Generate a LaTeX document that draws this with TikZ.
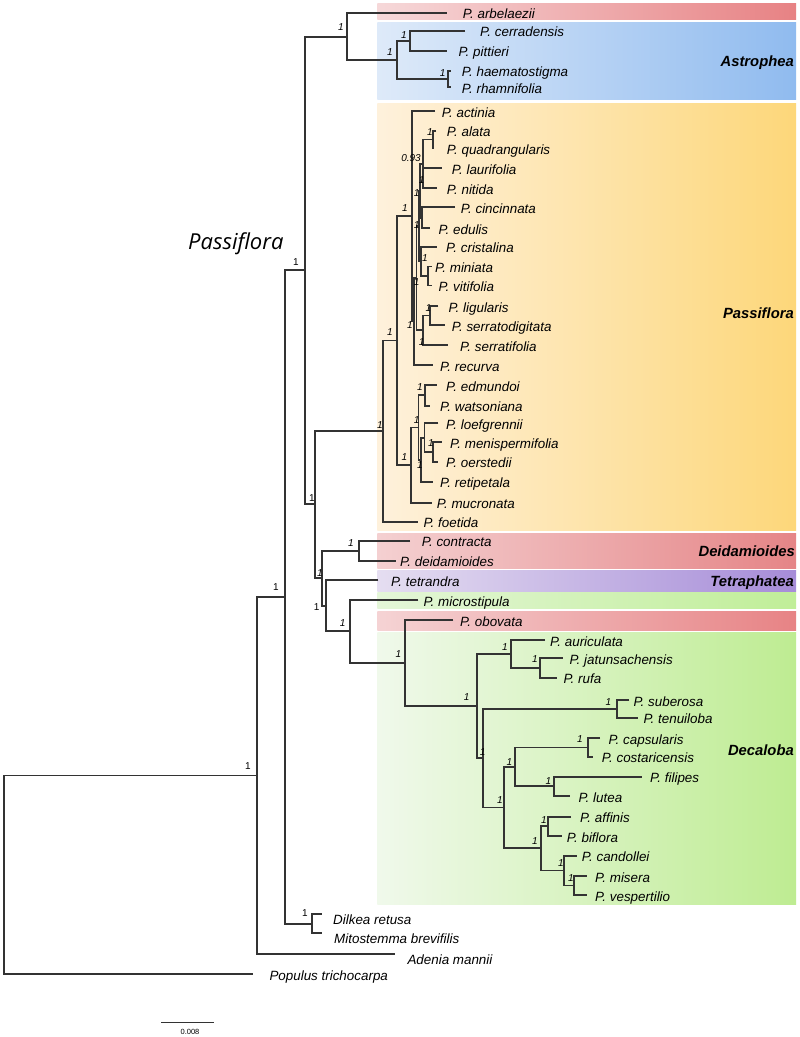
\documentclass[tikz,border=0pt]{standalone}
\usepackage{fontspec}
\setmainfont{Liberation Sans}
\newfontfamily\opensans{Open Sans}
\definecolor{arbL}{HTML}{F6D8D9}\definecolor{arbR}{HTML}{E78284}
\definecolor{astL}{HTML}{DEEAF9}\definecolor{astR}{HTML}{90BBEF}
\definecolor{pasL}{HTML}{FEF1DC}\definecolor{pasR}{HTML}{FDD77A}
\definecolor{deiL}{HTML}{F4D0D1}\definecolor{deiR}{HTML}{E58587}
\definecolor{tetL}{HTML}{E5DEF1}\definecolor{tetR}{HTML}{A68CD8}
\definecolor{micL}{HTML}{E4F6D8}\definecolor{micR}{HTML}{C0EE98}
\definecolor{oboL}{HTML}{F5D3D4}\definecolor{oboR}{HTML}{E78385}
\definecolor{decL}{HTML}{F0F9EB}\definecolor{decR}{HTML}{BEEC92}
\tikzset{
  branch/.style={line width=1.8pt, draw=black!80, line join=miter},
  tiplab/.style={anchor=base west, inner sep=0pt, font=\fontsize{13.4}{15}\selectfont\itshape},
  sup/.style={inner sep=0pt, font=\fontsize{10}{11}\selectfont\itshape},
  supu/.style={inner sep=0pt, font=\fontsize{10}{11}\selectfont},
  cladelab/.style={anchor=base east, inner sep=0pt, font=\fontsize{14.8}{16}\selectfont\bfseries\itshape},
}
\newcommand\tipnode[5]{\coordinate (#1) at (#2,#3); \node[tiplab] (#1-lab) at (#4,#3+6) {#5};}
\newcommand\inode[3]{\coordinate (#1) at (#2,#3);}
\newcommand\cladebr[3]{\draw[branch] (#2) -| (#1) |- (#3);}
\begin{document}
\begin{tikzpicture}[x=1pt,y=-1pt]
\fill[white] (0,0) rectangle (800,1037);
\useasboundingbox (0,0) rectangle (800,1037);
% bands
\shade[left color=arbL, right color=arbR] (377.3,3.3) rectangle (796,19.3);
\shade[left color=astL, right color=astR] (377.3,22.3) rectangle (796,99);
\shade[left color=pasL, right color=pasR] (377.3,103.3) rectangle (796,530);
\shade[left color=deiL, right color=deiR] (377.3,533.3) rectangle (796,568.3);
\shade[left color=tetL, right color=tetR] (377.3,570.7) rectangle (796,591);
\shade[left color=micL, right color=micR] (377.3,592.7) rectangle (796,608.3);
\shade[left color=oboL, right color=oboR] (377.3,611) rectangle (796,630);
\shade[left color=decL, right color=decR] (377.3,632.3) rectangle (796,904);
% clade labels
\node[cladelab] (labAst) at (794,66) {Astrophea};
\node[cladelab] (labPas) at (794,318.5) {Passiflora};
\node[cladelab] (labDei) at (795,556) {Deidamioides};
\node[cladelab] (labTet) at (794,586.5) {Tetraphatea};
\node[cladelab] (labDec) at (794,755.5) {Decaloba};
\node[anchor=base west, inner sep=0pt, font=\opensans\itshape\fontsize{22}{24}\selectfont] (bigPas) at (188,249.3) {Passiflora};
% tips
\tipnode{arb}{446.7}{12.7}{462.7}{P. arbelaezii}
\tipnode{cer}{465}{30.7}{480}{P. cerradensis}
\tipnode{pit}{446.7}{50.7}{458.3}{P. pittieri}
\tipnode{hae}{450.7}{70.7}{461.7}{P. haematostigma}
\tipnode{rha}{450.7}{87.3}{461.7}{P. rhamnifolia}
\tipnode{act}{435}{111}{441.7}{P. actinia}
\tipnode{ala}{436}{130.7}{446.7}{P. alata}
\tipnode{qua}{434}{148.3}{446.7}{P. quadrangularis}
\tipnode{lau}{441.7}{168.3}{451.7}{P. laurifolia}
\tipnode{nit}{436.7}{188.3}{446.7}{P. nitida}
\tipnode{cin}{455}{207.3}{460.7}{P. cincinnata}
\tipnode{edu}{430}{228.3}{438.3}{P. edulis}
\tipnode{cri}{436.7}{246.7}{446}{P. cristalina}
\tipnode{min}{431.7}{266.5}{435}{P. miniata}
\tipnode{vit}{431.7}{285.5}{438.3}{P. vitifolia}
\tipnode{lig}{438.3}{306}{448.3}{P. ligularis}
\tipnode{sdg}{445}{325}{451.7}{P. serratodigitata}
\tipnode{sfo}{448.3}{345}{460}{P. serratifolia}
\tipnode{rec}{433.3}{365}{440}{P. recurva}
\tipnode{edm}{436.7}{385}{446}{P. edmundoi}
\tipnode{wat}{430}{405.7}{440}{P. watsoniana}
\tipnode{loe}{438.3}{423.3}{446}{P. loefgrennii}
\tipnode{men}{441.7}{442.3}{450}{P. menispermifolia}
\tipnode{oer}{438.3}{461.7}{446}{P. oerstedii}
\tipnode{ret}{433.3}{481.7}{440}{P. retipetala}
\tipnode{muc}{431.7}{502.7}{436.7}{P. mucronata}
\tipnode{foe}{418.3}{521.7}{423.3}{P. foetida}
\tipnode{con}{410}{540.7}{421.7}{P. contracta}
\tipnode{dei}{396}{560.7}{400}{P. deidamioides}
\tipnode{tet}{378.3}{580}{391}{P. tetrandra}
\tipnode{mic}{418.3}{600}{423.3}{P. microstipula}
\tipnode{obo}{453.3}{620}{460}{P. obovata}
\tipnode{aur}{545}{640}{550}{P. auriculata}
\tipnode{jat}{562.7}{658.3}{569.3}{P. jatunsachensis}
\tipnode{ruf}{556.7}{677.7}{563.3}{P. rufa}
\tipnode{sub}{629.3}{700}{633.3}{P. suberosa}
\tipnode{ten}{638.3}{717.7}{643.3}{P. tenuiloba}
\tipnode{cap}{600}{738.3}{608.3}{P. capsularis}
\tipnode{cos}{593.3}{756.7}{601.7}{P. costaricensis}
\tipnode{fil}{641.7}{776.7}{650}{P. filipes}
\tipnode{lut}{570}{796}{578.3}{P. lutea}
\tipnode{aff}{571}{816.7}{580}{P. affinis}
\tipnode{bif}{561.7}{836}{566.7}{P. biflora}
\tipnode{can}{576.7}{855.7}{581.7}{P. candollei}
\tipnode{mis}{586.7}{876}{595}{P. misera}
\tipnode{ves}{586.7}{895}{595}{P. vespertilio}
\coordinate (dil) at (321.7,914.3); \node[tiplab] (dil-lab) at (333,924) {Dilkea retusa};
\coordinate (mit) at (321.7,933.3); \node[tiplab] (mit-lab) at (334,943) {Mitostemma brevifilis};
\coordinate (ade) at (395,954); \node[tiplab] (ade-lab) at (407.3,964) {Adenia mannii};
\coordinate (pop) at (253.3,974); \node[tiplab] (pop-lab) at (269.3,980) {Populus trichocarpa};
% internal nodes
\inode{R0}{4}{874}
\inode{N1}{257}{775.5}
\inode{N2}{285}{597}
\inode{DIL}{312.3}{923.8}
\inode{N3}{305}{270}
\inode{N4}{347}{36.7}
\inode{AST}{396.7}{60.2}
\inode{CP}{410}{40.7}
\inode{HR}{447.7}{79}
\inode{N5}{315}{504}
\inode{PAS}{383.3}{431}
\inode{S}{396.7}{340.5}
\inode{DD}{411.7}{216.2}
\inode{EE}{414}{321.5}
\inode{FF}{416.5}{278}
\inode{GG}{418.8}{226}
\inode{LL}{420.3}{190.8}
\inode{HH}{423.3}{163.9}
\inode{AA}{433.3}{139.5}
\inode{CE}{421.7}{217.8}
\inode{CC}{420.8}{261.3}
\inode{BB}{428.3}{276}
\inode{II}{422.7}{330.2}
\inode{LG}{430}{315.5}
\inode{T}{410.7}{465}
\inode{U}{418.5}{427.5}
\inode{V}{425}{395.3}
\inode{X}{421}{459.7}
\inode{Y}{424.5}{437.7}
\inode{W}{433}{452}
\inode{A}{321.7}{578}
\inode{DEI}{359}{550.7}
\inode{B}{325.7}{605.6}
\inode{C}{350}{631.2}
\inode{D}{405}{662.7}
\inode{E}{476.7}{706.2}
\inode{G}{511}{654.2}
\inode{H}{540}{668}
\inode{F}{483.3}{758.2}
\inode{I}{616.7}{708.8}
\inode{J}{504.3}{807.5}
\inode{L}{515}{766.9}
\inode{K}{588.3}{747.5}
\inode{M}{554}{786.3}
\inode{N}{541}{848.3}
\inode{O}{548.3}{826.3}
\inode{P}{564}{870.5}
\inode{Q}{574}{885.5}
% branches
\cladebr{R0}{N1}{pop}
\cladebr{N1}{N2}{ade}
\cladebr{N2}{N3}{DIL}
\cladebr{DIL}{dil}{mit}
\cladebr{N3}{N4}{N5}
\cladebr{N4}{arb}{AST}
\cladebr{AST}{CP}{HR}
\cladebr{CP}{cer}{pit}
\cladebr{HR}{hae}{rha}
\cladebr{N5}{PAS}{A}
\cladebr{PAS}{S}{foe}
\cladebr{S}{DD}{T}
\cladebr{DD}{act}{EE}
\cladebr{EE}{FF}{rec}
\cladebr{FF}{GG}{II}
\cladebr{GG}{LL}{CC}
\cladebr{LL}{HH}{CE}
\cladebr{HH}{AA}{nit}
\draw[branch] (lau) -- (lau -| HH);
\cladebr{AA}{ala}{qua}
\cladebr{CE}{cin}{edu}
\cladebr{CC}{cri}{BB}
\cladebr{BB}{min}{vit}
\cladebr{II}{LG}{sfo}
\cladebr{LG}{lig}{sdg}
\cladebr{T}{U}{muc}
\cladebr{U}{V}{X}
\cladebr{V}{edm}{wat}
\cladebr{X}{Y}{ret}
\cladebr{Y}{loe}{W}
\cladebr{W}{men}{oer}
\cladebr{A}{DEI}{B}
\cladebr{DEI}{con}{dei}
\cladebr{B}{tet}{C}
\cladebr{C}{mic}{D}
\cladebr{D}{obo}{E}
\cladebr{E}{G}{F}
\cladebr{G}{aur}{H}
\cladebr{H}{jat}{ruf}
\cladebr{F}{I}{J}
\cladebr{I}{sub}{ten}
\cladebr{J}{L}{N}
\cladebr{L}{K}{M}
\cladebr{K}{cap}{cos}
\cladebr{M}{fil}{lut}
\cladebr{N}{O}{P}
\cladebr{O}{aff}{bif}
\cladebr{P}{can}{Q}
\cladebr{Q}{mis}{ves}
% support values
\node[supu] at (296,262) {1};
\node[supu] at (312,498) {1};
\node[supu] at (276,587) {1};
\node[supu] at (248,766) {1};
\node[supu] at (305,913) {1};
\node[sup] at (341,27) {1};
\node[sup] at (390,52) {1};
\node[sup] at (404,35) {1};
\node[sup] at (442.7,73) {1};
\node[sup] at (380,425) {1};
\node[sup] at (390,331.7) {1};
\node[sup] at (405,208.5) {1};
\node[sup] at (430,131.7) {1};
\node[sup] at (411,158.3) {0.93};
\node[sup] at (421.7,180) {1};
\node[sup] at (416.7,193.3) {1};
\node[sup] at (416.7,225) {1};
\node[sup] at (425,258.3) {1};
\node[sup] at (416.7,281.7) {1};
\node[sup] at (428.3,308.3) {1};
\node[sup] at (410,325) {1};
\node[sup] at (421.7,341.7) {1};
\node[sup] at (404.3,456.7) {1};
\node[sup] at (420,387.3) {1};
\node[sup] at (416.7,420) {1};
\node[sup] at (431,443.3) {1};
\node[sup] at (420,465) {1};
\node[sup] at (351,543.3) {1};
\node[sup] at (320,573) {1};
\node[supu] at (316.7,606.7) {1};
\node[sup] at (342.7,622.7) {1};
\node[sup] at (398.3,654.3) {1};
\node[sup] at (505,646.7) {1};
\node[sup] at (535,659.3) {1};
\node[sup] at (466.7,696.7) {1};
\node[sup] at (608.3,702.3) {1};
\node[sup] at (580,739) {1};
\node[sup] at (509.3,761.7) {1};
\node[sup] at (482.7,751.7) {1};
\node[sup] at (548.3,780.7) {1};
\node[sup] at (500,800) {1};
\node[sup] at (544,820) {1};
\node[sup] at (535,840.7) {1};
\node[sup] at (561,863.3) {1};
\node[sup] at (571,878.3) {1};
% scale bar
\coordinate (sb1) at (161,1022.7);
\coordinate (sb2) at (214.3,1022.7);
\draw[branch, line width=1.4pt] (sb1) -- (sb2);
\node[inner sep=0pt, font=\fontsize{7.5}{8}\selectfont] (sbl) at (190,1031.7) {0.008};
\end{tikzpicture}
\end{document}
